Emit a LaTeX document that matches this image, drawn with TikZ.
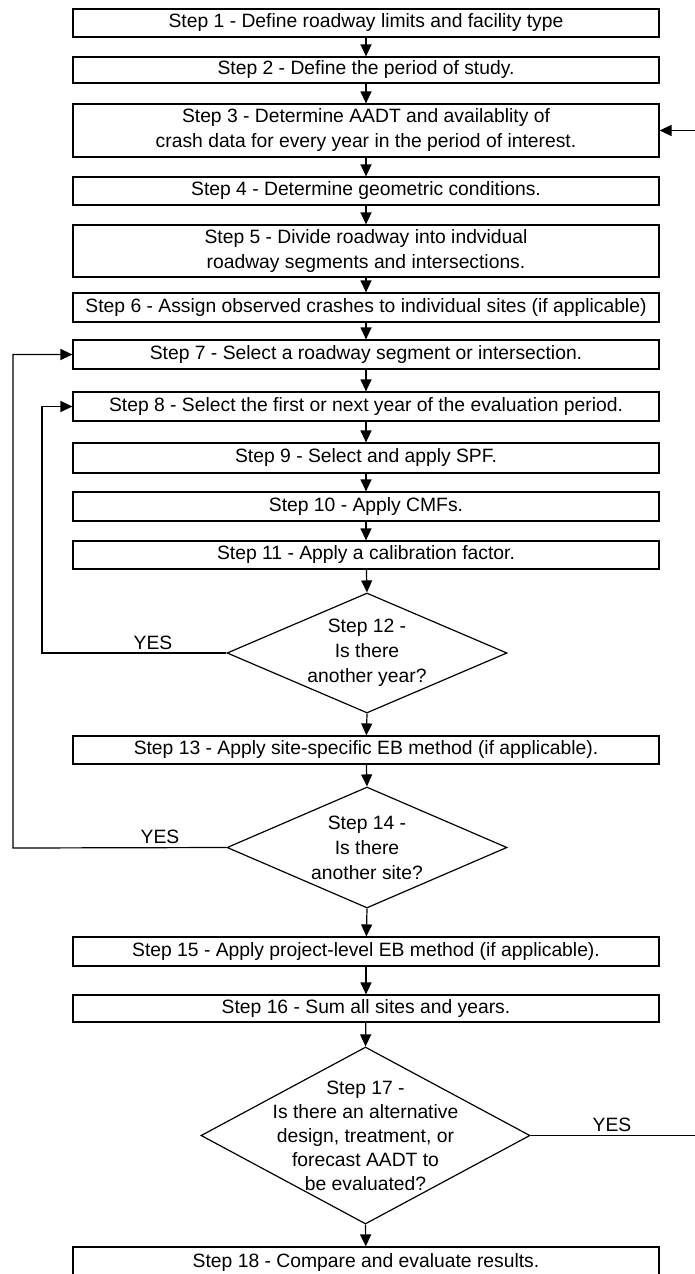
\documentclass[tikz,border=0pt]{standalone}
\usepackage{fontspec}
\setmainfont{Liberation Sans}
\usetikzlibrary{shapes.geometric,arrows.meta}
\begin{document}
\begin{tikzpicture}[x=1pt,y=-1pt,
  every node/.style={font=\fontsize{19.3}{25}\selectfont},
  stepbox/.style={draw,line width=1.2pt,minimum width=586pt,inner sep=0pt,align=center},
  dia/.style={draw,line width=1.2pt,shape=diamond,inner sep=0pt},
  diatext/.style={align=center,inner sep=0pt},
  flow/.style={line width=1.2pt,-{Triangle[length=12pt,width=11pt]}},
  yeslabel/.style={inner sep=0pt,anchor=base}]
\useasboundingbox (0,0) rectangle (695,1274);
\clip (0,0) rectangle (695,1274);
\fill[white] (0,0) rectangle (695,1274);
% boxes
\node[stepbox,minimum height=28pt] (b1) at (366,23) {Step 1 - Define roadway limits and facility type};
\node[stepbox,minimum height=26pt] (b2) at (366,70) {Step 2 - Define the period of study.};
\node[stepbox,minimum height=53pt] (b3) at (366,130.5) {Step 3 - Determine AADT and availablity of\\crash data for every year in the period of interest.};
\node[stepbox,minimum height=28pt] (b4) at (366,191) {Step 4 - Determine geometric conditions.};
\node[stepbox,minimum height=52pt] (b5) at (366,251) {Step 5 - Divide roadway into indvidual\\roadway segments and intersections.};
\node[stepbox,minimum height=29pt] (b6) at (366,307.5) {Step 6 - Assign observed crashes to individual sites (if applicable)};
\node[stepbox,minimum height=29pt] (b7) at (366,354.5) {Step 7 - Select a roadway segment or intersection.};
\node[stepbox,minimum height=29pt] (b8) at (366,406.5) {Step 8 - Select the first or next year of the evaluation period.};
\node[stepbox,minimum height=30pt] (b9) at (366,458) {Step 9 - Select and apply SPF.};
\node[stepbox,minimum height=29pt] (b10) at (366,506.5) {Step 10 - Apply CMFs.};
\node[stepbox,minimum height=28pt] (b11) at (366,555) {Step 11 - Apply a calibration factor.};
\node[dia,minimum width=280pt,minimum height=120pt] (d12) at (367,653) {};
\node[diatext] (t12) at (d12.center) {Step 12 -\\Is there\\another year?};
\node[stepbox,minimum height=28pt] (b13) at (366,750) {Step 13 - Apply site-specific EB method (if applicable).};
\node[dia,minimum width=280pt,minimum height=121pt] (d14) at (367,847.5) {};
\node[diatext] (t14) at (d14.center) {Step 14 -\\Is there\\another site?};
\node[stepbox,minimum height=29pt] (b15) at (366,951.5) {Step 15 - Apply project-level EB method (if applicable).};
\node[stepbox,minimum height=27pt] (b16) at (366,1008.5) {Step 16 - Sum all sites and years.};
\node[dia,minimum width=329pt,minimum height=177pt] (d17) at (365.5,1135.5) {};
\node[diatext,font=\fontsize{19.3}{24}\selectfont] (t17) at (d17.center) {Step 17 -\\Is there an alternative\\design, treatment, or\\forecast AADT to\\be evaluated?};
\node[stepbox,minimum height=30pt] (b18) at (366,1262) {Step 18 - Compare and evaluate results.};
% main flow
\draw[flow] (b1) -- (b2);
\draw[flow] (b2) -- (b3);
\draw[flow] (b3) -- (b4);
\draw[flow] (b4) -- (b5);
\draw[flow] (b5) -- (b6);
\draw[flow] (b6) -- (b7);
\draw[flow] (b7) -- (b8);
\draw[flow] (b8) -- (b9);
\draw[flow] (b9) -- (b10);
\draw[flow] (b10) -- (b11);
\draw[flow] (b11) -- (d12.north);
\draw[flow] (d12.south) -- (b13);
\draw[flow] (b13) -- (d14.north);
\draw[flow] (d14.south) -- (b15);
\draw[flow] (b15) -- (b16);
\draw[flow] (b16) -- (d17.north);
\draw[flow] (d17.south) -- (b18);
% loops
\coordinate (l12) at (42,653);
\coordinate (l14) at (13,848);
\coordinate (r17) at (700,1135.5);
\draw[flow] (d12.west) -- (l12) |- (b8.west);
\draw[flow] (d14.west) -- (l14) |- (b7.west);
\draw[flow] (d17.east) -- (r17) |- (b3.east);
% labels
\node[yeslabel] (y12) at (153,649) {YES};
\node[yeslabel] (y14) at (160,843) {YES};
\node[yeslabel] (y17) at (612,1131) {YES};
\end{tikzpicture}
\end{document}
